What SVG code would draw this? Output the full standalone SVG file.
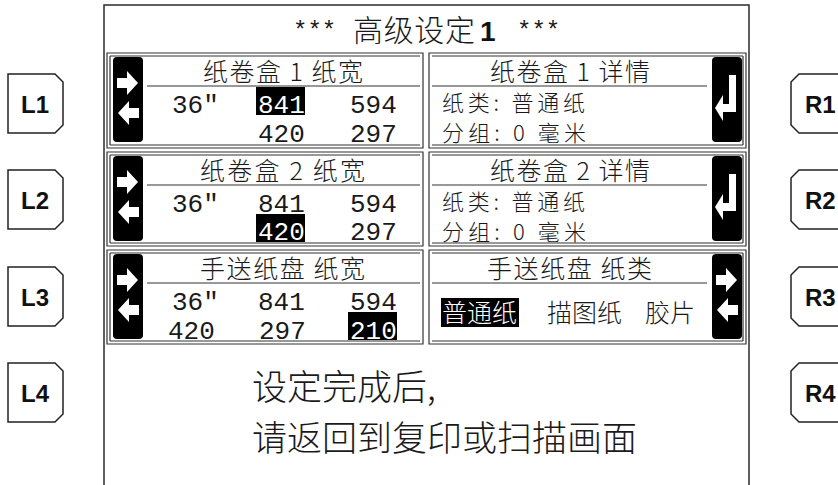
<svg xmlns="http://www.w3.org/2000/svg" xmlns:xlink="http://www.w3.org/1999/xlink" width="838" height="485" viewBox="0 0 838 485">
<style>
.frame{fill:none;stroke:#2b2b2b;stroke-width:1.5}
.pl{fill:none;stroke:#333;stroke-width:1.2}
.cjk{font-family:"Noto Sans CJK SC","Noto Sans CJK JP",sans-serif;fill:#1a1a1a;font-weight:300}
.hd{font-size:25px}
.dt{font-size:22px}
.num{font-family:"Liberation Mono","DejaVu Sans Mono",monospace;font-size:26px;fill:#1a1a1a}
.inv{fill:#fff}
.hl{fill:#000}
.key{fill:#fff;stroke:#222;stroke-width:1.5}
.keyt{font-family:"Liberation Sans",Arial,sans-serif;font-weight:bold;font-size:24px;fill:#111}
.ast{font-family:"Liberation Mono","DejaVu Sans Mono",monospace;font-size:24px;fill:#1a1a1a}
</style>
<defs>
<g id="arrowsBar">
<rect x="0" y="0" width="30" height="85" rx="4" fill="#000"/>
<polygon points="4,21 14,21 14,14 25,26 14,38 14,31 4,31" fill="#fff"/>
<polygon points="26,51 16,51 16,44 5,56 16,68 16,61 26,61" fill="#fff"/>
</g>
<g id="returnBar">
<rect x="0" y="0" width="30" height="85" rx="4" fill="#000"/>
<polygon points="17,18 24,18 24,55 11,55 11,64 3,51 11,38 11,47 17,47" fill="#fff"/>
</g>
</defs>
<rect width="838" height="485" fill="#fff"/>
<g id="screen">
<path class="frame" d="M104,485 V5 H749 V485"/>
</g>
<g id="title">
<text class="ast" x="293" y="38">***</text>
<text class="cjk" x="353" y="41" font-size="30" textLength="122">高级设定</text>
<text x="480" y="41" font-family="Liberation Sans,Arial,sans-serif" font-weight="bold" font-size="28" fill="#111">1</text>
<text class="ast" x="517" y="38">***</text>
</g>
<g id="panel-roll1-width">
<path class="pl" d="M107,53 H423 V148 H107 Z M110,56 H420 M110,145 H420 M110,56 V145"/>
<use xlink:href="#arrowsBar" x="113" y="57"/>
<text class="cjk hd" x="203" y="81" textLength="160">纸卷盒 1 纸宽</text>
<path class="pl" d="M147,86 H420"/>
<text class="num" x="172" y="113">36"</text>
<rect class="hl" x="256" y="87" width="49" height="28"/>
<text class="num inv" x="258" y="113">841</text>
<text class="num" x="350" y="113">594</text>
<text class="num" x="258" y="142">420</text>
<text class="num" x="350" y="142">297</text>
</g>
<g id="panel-roll1-detail">
<path class="pl" d="M429,53 H746 V148 H429 Z M432,56 H743 M432,145 H743 M743,56 V145"/>
<use xlink:href="#returnBar" x="712" y="57"/>
<text class="cjk hd" x="490" y="81" textLength="160">纸卷盒 1 详情</text>
<path class="pl" d="M432,86 H707"/>
<text class="cjk dt" x="442" y="111" textLength="143">纸类: 普通纸</text>
<text class="cjk dt" x="442" y="141" textLength="144">分组: 0 毫米</text>
</g>
<g id="panel-roll2-width">
<path class="pl" d="M107,152 H423 V246 H107 Z M110,155 H420 M110,243 H420 M110,155 V243"/>
<use xlink:href="#arrowsBar" x="113" y="156"/>
<text class="cjk hd" x="200" y="180" textLength="165">纸卷盒 2  纸宽</text>
<path class="pl" d="M147,185 H420"/>
<text class="num" x="172" y="212">36"</text>
<text class="num" x="258" y="212">841</text>
<text class="num" x="350" y="212">594</text>
<rect class="hl" x="256" y="214" width="49" height="28"/>
<text class="num inv" x="258" y="240">420</text>
<text class="num" x="350" y="240">297</text>
</g>
<g id="panel-roll2-detail">
<path class="pl" d="M429,152 H746 V246 H429 Z M432,155 H743 M432,243 H743 M743,155 V243"/>
<use xlink:href="#returnBar" x="712" y="156"/>
<text class="cjk hd" x="490" y="180" textLength="160">纸卷盒 2 详情</text>
<path class="pl" d="M432,185 H707"/>
<text class="cjk dt" x="442" y="210" textLength="143">纸类: 普通纸</text>
<text class="cjk dt" x="442" y="240" textLength="144">分组: 0 毫米</text>
</g>
<g id="panel-bypass-width">
<path class="pl" d="M107,250 H423 V344 H107 Z M110,253 H420 M110,341 H420 M110,253 V341"/>
<use xlink:href="#arrowsBar" x="113" y="254"/>
<text class="cjk hd" x="200" y="278" textLength="165">手送纸盘 纸宽</text>
<path class="pl" d="M147,283 H420"/>
<text class="num" x="172" y="310">36"</text>
<text class="num" x="258" y="310">841</text>
<text class="num" x="350" y="310">594</text>
<text class="num" x="168" y="339">420</text>
<text class="num" x="259" y="339">297</text>
<rect class="hl" x="348" y="312" width="49" height="28"/>
<text class="num inv" x="350" y="339">210</text>
</g>
<g id="panel-bypass-type">
<path class="pl" d="M429,250 H746 V344 H429 Z M432,253 H743 M432,341 H743 M743,253 V341"/>
<use xlink:href="#arrowsBar" x="712" y="254"/>
<text class="cjk hd" x="487" y="278" textLength="165">手送纸盘 纸类</text>
<path class="pl" d="M432,283 H707"/>
<rect class="hl" x="441" y="298" width="78" height="29"/>
<text class="cjk inv" font-size="25" x="442" y="322">普通纸</text>
<text class="cjk" font-size="25" x="547" y="322">描图纸</text>
<text class="cjk" font-size="25" x="645" y="322">胶片</text>
</g>
<g id="message">
<text class="cjk" font-size="35" x="252" y="400">设定完成后,</text>
<text class="cjk" font-size="35" x="252" y="451">请返回到复印或扫描画面</text>
</g>
<g id="key-L1"><path class="key" d="M8,74 H55 L63,82 V125 L55,133 H8 Z"/><text class="keyt" x="35" y="113" text-anchor="middle">L1</text></g>
<g id="key-L2"><path class="key" d="M8,170 H55 L63,178 V221 L55,229 H8 Z"/><text class="keyt" x="35" y="209" text-anchor="middle">L2</text></g>
<g id="key-L3"><path class="key" d="M8,267 H55 L63,275 V318 L55,326 H8 Z"/><text class="keyt" x="35" y="306" text-anchor="middle">L3</text></g>
<g id="key-L4"><path class="key" d="M8,363 H55 L63,371 V414 L55,422 H8 Z"/><text class="keyt" x="35" y="402" text-anchor="middle">L4</text></g>
<g id="key-R1"><path class="key" d="M840,74 H799 L791,82 V125 L799,133 H840"/><text class="keyt" x="805" y="113">R1</text></g>
<g id="key-R2"><path class="key" d="M840,170 H799 L791,178 V221 L799,229 H840"/><text class="keyt" x="805" y="209">R2</text></g>
<g id="key-R3"><path class="key" d="M840,267 H799 L791,275 V318 L799,326 H840"/><text class="keyt" x="805" y="306">R3</text></g>
<g id="key-R4"><path class="key" d="M840,363 H799 L791,371 V414 L799,422 H840"/><text class="keyt" x="805" y="402">R4</text></g>
</svg>
